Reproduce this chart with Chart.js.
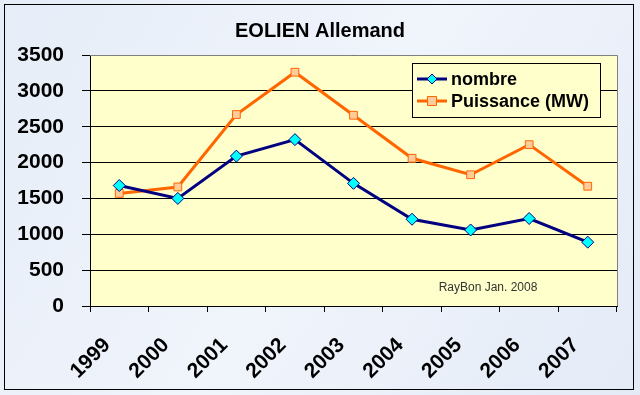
<!DOCTYPE html>
<html lang="fr">
<head>
<meta charset="utf-8">
<title>EOLIEN Allemand</title>
<script src="https://cdn.jsdelivr.net/npm/chart.js@4/dist/chart.umd.min.js"></script>
<style>
  html, body { margin: 0; padding: 0; background: #fff; }
  #cadre { width: 640px; height: 395px; }
</style>
</head>
<body>
<div id="cadre"><canvas id="graphique"></canvas></div>
<script>
/* ─── Données ─────────────────────────────────────────────────── */
const ANNEES     = ['1999', '2000', '2001', '2002', '2003', '2004', '2005', '2006', '2007'];
const NOMBRE     = [1680, 1500, 2090, 2320, 1710, 1210, 1060, 1220, 890];
const PUISSANCE  = [1570, 1660, 2670, 3260, 2660, 2060, 1830, 2250, 1670];
const Y_TICKS    = [0, 500, 1000, 1500, 2000, 2500, 3000, 3500];

const POLICE = "Arial, 'Liberation Sans', sans-serif";

/* Fond marbré, zone de tracé jaune, cadre, légende encadrée */
const fondPlugin = {
    id: 'fond',
    beforeDraw(chart) {
        const { ctx, chartArea: a } = chart;
        ctx.save();
        const g = ctx.createLinearGradient(0, 0, chart.width, chart.height);
        g.addColorStop(0, '#e6edf8');
        g.addColorStop(0.5, '#f0f4fb');
        g.addColorStop(1, '#e4ebf7');
        ctx.fillStyle = g;
        ctx.fillRect(0, 0, chart.width, chart.height);
        ctx.strokeStyle = '#000';
        ctx.lineWidth = 1;
        ctx.strokeRect(4.5, 4.5, 629, 385);
        ctx.fillStyle = '#ffffcc';
        ctx.fillRect(a.left, a.top, a.right - a.left, a.bottom - a.top);
        ctx.restore();
    },
    afterDraw(chart) {
        const { ctx, chartArea: a } = chart;
        ctx.save();
        ctx.strokeStyle = '#808080';
        ctx.lineWidth = 1;
        ctx.beginPath();
        ctx.moveTo(a.left, a.top + 0.5);
        ctx.lineTo(a.right + 0.5, a.top + 0.5);
        ctx.lineTo(a.right + 0.5, a.bottom);
        ctx.stroke();

        // signature
        ctx.fillStyle = '#333';
        ctx.font = '12px ' + POLICE;
        ctx.textAlign = 'center';
        ctx.textBaseline = 'middle';
        ctx.fillText('RayBon Jan. 2008', 488, 288);

        // légende
        const x0 = 412, y0 = 63, w = 188, h = 54;
        ctx.fillStyle = '#ffffcc';
        ctx.fillRect(x0, y0, w, h);
        ctx.strokeStyle = '#000';
        ctx.strokeRect(x0 + 0.5, y0 + 0.5, w, h);
        ctx.font = 'bold 18px ' + POLICE;
        ctx.textAlign = 'left';
        chart.data.datasets.forEach((ds, i) => {
            const y = y0 + 16 + i * 22;
            const cx = x0 + 20;
            ctx.strokeStyle = ds.borderColor;
            ctx.lineWidth = 3;
            ctx.beginPath();
            ctx.moveTo(x0 + 5, y);
            ctx.lineTo(x0 + 35, y);
            ctx.stroke();
            ctx.lineWidth = 1;
            ctx.fillStyle = ds.pointBackgroundColor;
            ctx.strokeStyle = ds.pointBorderColor;
            ctx.beginPath();
            if (ds.pointStyle === 'rectRot') {
                ctx.moveTo(cx, y - 5);
                ctx.lineTo(cx + 5, y);
                ctx.lineTo(cx, y + 5);
                ctx.lineTo(cx - 5, y);
                ctx.closePath();
            } else {
                ctx.rect(cx - 4.5, y - 4.5, 9, 9);
            }
            ctx.fill();
            ctx.stroke();
            ctx.fillStyle = '#000';
            ctx.fillText(ds.label, x0 + 39, y + 1);
        });
        ctx.restore();
    },
};

new Chart(document.getElementById('graphique'), {
    type: 'line',
    data: {
        labels: ANNEES,
        datasets: [
            {
                label: 'nombre',
                data: NOMBRE,
                borderColor: '#000080',
                borderWidth: 3,
                pointStyle: 'rectRot',
                pointRadius: 6,
                pointBackgroundColor: '#00ffff',
                pointBorderColor: '#000080',
                pointBorderWidth: 1,
                tension: 0,
            },
            {
                label: 'Puissance (MW)',
                data: PUISSANCE,
                borderColor: '#ff6600',
                borderWidth: 3,
                pointStyle: 'rect',
                pointRadius: 5.5,
                pointBackgroundColor: '#ffcc99',
                pointBorderColor: '#ff6600',
                pointBorderWidth: 1,
                tension: 0,
            },
        ],
    },
    options: {
        responsive: true,
        maintainAspectRatio: false,
        animation: false,
        layout: { padding: 0 },
        plugins: {
            legend: { display: false },
            tooltip: { enabled: false },
            title: {
                display: true,
                text: 'EOLIEN Allemand',
                color: '#000',
                font: { family: POLICE, size: 20, weight: 'bold' },
                padding: { top: 19, bottom: 12 },
            },
        },
        scales: {
            x: {
                offset: true,
                grid: { offset: true, drawOnChartArea: false, color: '#000', tickLength: 6 },
                border: { color: '#000' },
                ticks: {
                    color: '#000',
                    font: { family: POLICE, size: 21, weight: 'bold' },
                    minRotation: 45,
                    maxRotation: 45,
                    padding: 21,
                    labelOffset: -12,
                },
                afterFit: s => { s.height = 89; },
            },
            y: {
                min: 0,
                max: 3500,
                afterBuildTicks: s => { s.ticks = Y_TICKS.map(v => ({ value: v })); },
                grid: { color: '#000', tickLength: 8 },
                border: { color: '#000' },
                ticks: {
                    color: '#000',
                    font: { family: POLICE, size: 21, weight: 'bold' },
                    padding: 18,
                    callback: v => String(v),
                },
                afterFit: s => { s.width = 90; },
            },
            // marge droite (axe vide) pour garder le titre centré sur la page
            marge: {
                position: 'right',
                grid: { display: false },
                border: { display: false },
                ticks: { display: false },
                afterFit: s => { s.width = 23; },
            },
        },
    },
    plugins: [fondPlugin],
});
</script>
</body>
</html>
